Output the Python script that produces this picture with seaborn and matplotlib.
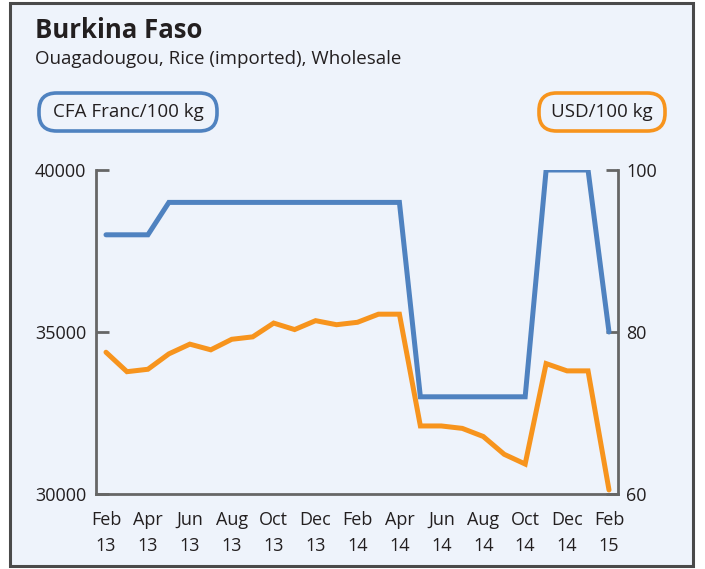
import matplotlib
matplotlib.use("Agg")
import matplotlib.pyplot as plt
from matplotlib.patches import FancyBboxPatch, Rectangle
import seaborn as sns
import pandas as pd
import numpy as np

months = ["Feb 13", "Mar 13", "Apr 13", "May 13", "Jun 13", "Jul 13", "Aug 13", "Sep 13",
          "Oct 13", "Nov 13", "Dec 13", "Jan 14", "Feb 14", "Mar 14", "Apr 14", "May 14",
          "Jun 14", "Jul 14", "Aug 14", "Sep 14", "Oct 14", "Nov 14", "Dec 14", "Jan 15", "Feb 15"]
cfa_values = [38000, 38000, 38000, 39000, 39000, 39000, 39000, 39000, 39000, 39000, 39000,
              39000, 39000, 39000, 39000, 33000, 33000, 33000, 33000, 33000, 33000, 40000,
              40000, 40000, 35000]
usd_values = [77.5, 75.1, 75.4, 77.3, 78.5, 77.8, 79.1, 79.4, 81.1, 80.3, 81.4, 80.9, 81.2,
              82.2, 82.2, 68.4, 68.4, 68.1, 67.1, 64.9, 63.7, 76.1, 75.2, 75.2, 60.5]
tick_labels = ["Feb\n13", "Apr\n13", "Jun\n13", "Aug\n13", "Oct\n13", "Dec\n13", "Feb\n14",
               "Apr\n14", "Jun\n14", "Aug\n14", "Oct\n14", "Dec\n14", "Feb\n15"]
left_ticks = [30000, 35000, 40000]
right_ticks = [60, 80, 100]

BLUE = "#4F82C0"
ORANGE = "#F7941D"
BG = "#EEF3FB"
AXC = "#666666"
TXT = "#231F20"

sns.set_style("white")
plt.rcParams["font.family"] = ["Open Sans", "DejaVu Sans"]

df = pd.DataFrame({"idx": np.arange(len(months)), "month": months,
                   "cfa": cfa_values, "usd": usd_values})

W, H = 705, 569
fig = plt.figure(figsize=(W / 100, H / 100), dpi=100)
fig.patch.set_facecolor("white")
fig.patches.append(Rectangle((10 / W, 1 - 566 / H), 683 / W, 563 / H, transform=fig.transFigure,
                             facecolor=BG, edgecolor="#4a4a4a", linewidth=2.2, zorder=0))

ax = fig.add_axes([96 / W, 1 - 494 / H, (618 - 96) / W, (494 - 170) / H])
ax.set_facecolor("none")
ax2 = ax.twinx()
ax2.set_facecolor("none")

sns.lineplot(data=df, x="idx", y="usd", ax=ax2, color=ORANGE, linewidth=3.6,
             solid_capstyle="round", solid_joinstyle="miter")
sns.lineplot(data=df, x="idx", y="cfa", ax=ax, color=BLUE, linewidth=3.6,
             solid_capstyle="round", solid_joinstyle="miter")
ax.set_zorder(2)
ax2.set_zorder(1)

n = len(months)
ax.set_xlim(-10 / 20.96, 24 + 9 / 20.96)
ax.set_ylim(30000, 40000)
ax2.set_ylim(60, 100)

ax.set_xticks(np.arange(0, n, 2))
ax.set_xticklabels(tick_labels)
ax.set_xticks(np.arange(n), minor=True)
ax.set_yticks(left_ticks)
ax.set_yticklabels([str(v) for v in left_ticks])
ax2.set_yticks(right_ticks)
ax2.set_yticklabels([str(v) for v in right_ticks])

for a in (ax, ax2):
    a.set_xlabel("")
    a.set_ylabel("")
    a.spines["top"].set_visible(False)
    for s in ("left", "right", "bottom"):
        a.spines[s].set_color(AXC)
        a.spines[s].set_linewidth(2)
ax.spines["right"].set_visible(False)
ax2.spines["left"].set_visible(False)
ax2.spines["bottom"].set_visible(False)

ax.tick_params(axis="x", which="both", direction="in", length=5, width=1.3, color=AXC,
               labelsize=13, labelcolor=TXT, pad=12)
ax.tick_params(axis="y", direction="in", length=9, width=2, color=AXC,
               labelsize=13, labelcolor=TXT, pad=7)
ax2.tick_params(axis="y", direction="in", length=9, width=2, color=AXC,
                labelsize=13, labelcolor=TXT, pad=6)
for lab in ax.get_xticklabels():
    lab.set_linespacing(1.6)

fig.text(35 / W, 1 - 31 / H, "Burkina Faso", fontsize=18.5, fontweight="bold", color=TXT,
         va="center", ha="left")
fig.text(35 / W, 1 - 59 / H, "Ouagadougou, Rice (imported), Wholesale", fontsize=13.5,
         color=TXT, va="center", ha="left")

def label_box(x0, x1, text, color):
    y0, y1 = 93, 131
    fig.patches.append(FancyBboxPatch((x0 / W, 1 - y1 / H), (x1 - x0) / W, (y1 - y0) / H,
                                      boxstyle="round,pad=0,rounding_size=0.025",
                                      transform=fig.transFigure, facecolor="none",
                                      edgecolor=color, linewidth=2.6, zorder=3,
                                      mutation_aspect=W / H))
    fig.text((x0 + x1) / 2 / W, 1 - (y0 + y1) / 2 / H, text, fontsize=13.5, color=TXT,
             ha="center", va="center")

label_box(39, 217, "CFA Franc/100 kg", BLUE)
label_box(539, 665, "USD/100 kg", ORANGE)

fig.savefig("out.png", dpi=100, facecolor=fig.get_facecolor())
